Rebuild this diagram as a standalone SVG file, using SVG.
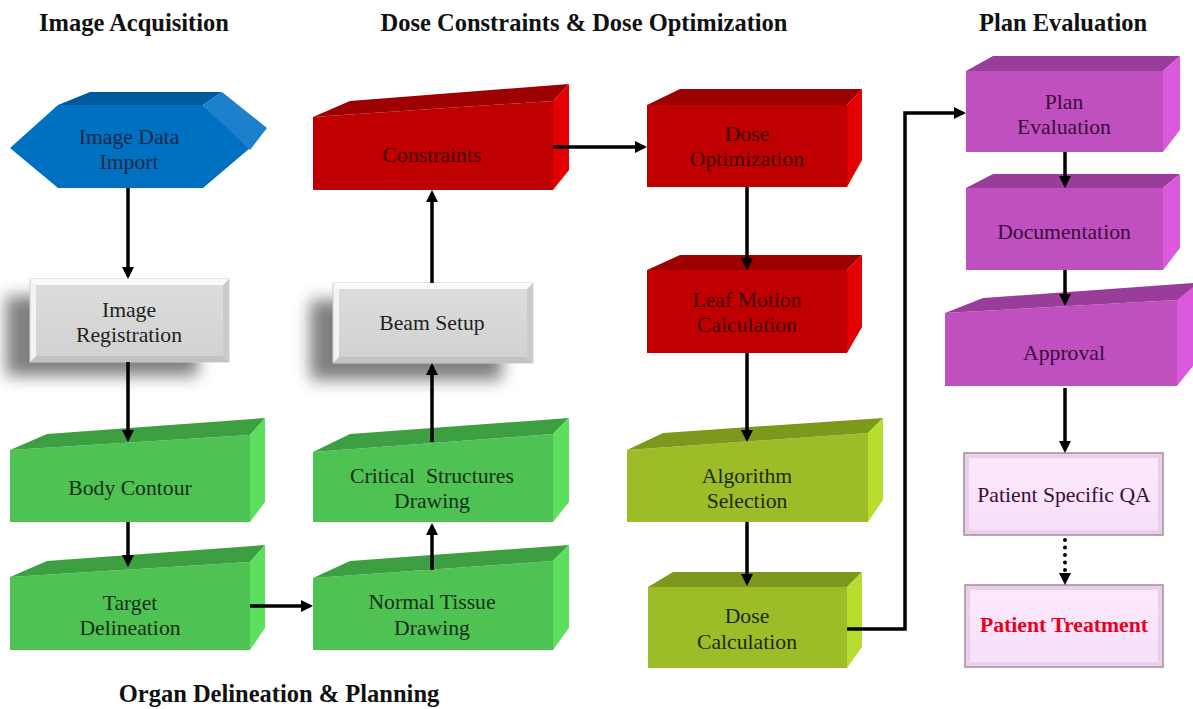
<svg xmlns="http://www.w3.org/2000/svg" width="1193" height="709" viewBox="0 0 1193 709">
<style>
  .hdr{font-family:'Liberation Serif','Times New Roman',serif;font-weight:bold;font-size:24.5px;fill:#111;text-anchor:middle}
  .t{font-family:'Liberation Serif','Times New Roman',serif;font-size:21.7px;text-anchor:middle}
  .gf{fill:#4EC252}.gt{fill:#3D9E42}.gs{fill:#5CDF5F}
  .rf{fill:#C00000}.rt{fill:#9C0000}.rs{fill:#E40000}
  .lf{fill:#9CBD28}.lt{fill:#7C991B}.ls{fill:#B6DE2F}
  .pf{fill:#C050C0}.pt{fill:#9A3D9A}.ps{fill:#DC58DC}
  .bf{fill:#0070C0}.bt{fill:#00599C}.bs{fill:#1C80CD}
  .tg{fill:#17301a}.tr{fill:#400000}.tl{fill:#1d2a06}.tp{fill:#3a0c3a}.tb{fill:#14284a}.tk{fill:#222}
  .ln{fill:none;stroke:#000;stroke-width:3.5}
  .dot{fill:none;stroke:#000;stroke-width:4;stroke-linecap:round;stroke-dasharray:0 7.5}
</style>
<defs>
  <marker id="ah" viewBox="0 0 10 10" refX="7.5" refY="5" markerWidth="12" markerHeight="12" markerUnits="userSpaceOnUse" orient="auto">
    <path d="M0,0 L10,5 L0,10 z" fill="#000"/>
  </marker>
  <filter id="sh" x="-30%" y="-40%" width="160%" height="180%">
    <feGaussianBlur stdDeviation="8"/>
  </filter>
  <linearGradient id="gray" x1="0" y1="0" x2="0" y2="1">
    <stop offset="0" stop-color="#DCDCDC"/>
    <stop offset="1" stop-color="#D2D2D2"/>
  </linearGradient>
  <linearGradient id="pink" x1="0" y1="0" x2="0" y2="1">
    <stop offset="0" stop-color="#FCE8FC"/>
    <stop offset="1" stop-color="#F8E0F8"/>
  </linearGradient>
</defs>
<rect width="1193" height="709" fill="#fff"/>

<g id="headers">
  <text class="hdr" x="134" y="31">Image Acquisition</text>
  <text class="hdr" x="584" y="31">Dose Constraints &amp; Dose Optimization</text>
  <text class="hdr" x="1063" y="31">Plan Evaluation</text>
  <text class="hdr" x="279" y="702">Organ Delineation &amp; Planning</text>
</g>

<g id="image-data-import">
  <polygon class="bf" points="10,148 58,105 203,105 250,148 203,188 58,188"/>
  <polygon class="bt" points="58,105 90,92 222,92 203,105"/>
  <polygon class="bs" points="203,105 222,92 267,128 250,150"/>
  <text class="t tb" x="129" y="144">Image Data</text>
  <text class="t tb" x="129" y="169">Import</text>
</g>

<g id="image-registration">
  <rect x="6" y="296" width="192" height="80" fill="#555" opacity="0.75" filter="url(#sh)"/>
  <rect x="30" y="279" width="199" height="83" fill="#F3F3F3" stroke="#CFCFCF" stroke-width="1"/>
  <polygon points="30,279 229,279 223,285 36,285" fill="#FAFAFA"/>
  <polygon points="30,362 229,362 223,356 36,356" fill="#C2C2C2"/>
  <polygon points="229,279 229,362 223,356 223,285" fill="#CBCBCB"/>
  <rect x="36" y="285" width="187" height="71" fill="url(#gray)"/>
  <text class="t tk" x="129" y="317">Image</text>
  <text class="t tk" x="129" y="342">Registration</text>
</g>

<g id="body-contour">
  <polygon class="gf" points="10,450 250,435 250,522 10,522"/>
  <polygon class="gt" points="10,450 47,434 265,418 250,435"/>
  <polygon class="gs" points="250,435 265,418 265,502 250,522"/>
  <text class="t tg" x="130" y="495">Body Contour</text>
</g>

<g id="target-delineation">
  <polygon class="gf" points="10,577 250,562 250,650 10,650"/>
  <polygon class="gt" points="10,577 47,561 265,545 250,562"/>
  <polygon class="gs" points="250,562 265,545 265,628 250,650"/>
  <text class="t tg" x="130" y="610">Target</text>
  <text class="t tg" x="130" y="635">Delineation</text>
</g>

<g id="constraints">
  <polygon class="rf" points="313,117 553,101 553,190 313,190"/>
  <polygon class="rt" points="313,117 350,101 569,84 553,101"/>
  <polygon class="rs" points="553,101 569,84 569,170 553,190"/>
  <text class="t tr" x="432" y="162">Constraints</text>
</g>

<g id="beam-setup">
  <rect x="310" y="300" width="192" height="80" fill="#555" opacity="0.75" filter="url(#sh)"/>
  <rect x="333" y="283" width="200" height="80" fill="#F3F3F3" stroke="#CFCFCF" stroke-width="1"/>
  <polygon points="333,283 533,283 527,289 339,289" fill="#FAFAFA"/>
  <polygon points="333,363 533,363 527,357 339,357" fill="#C2C2C2"/>
  <polygon points="533,283 533,363 527,357 527,289" fill="#CBCBCB"/>
  <rect x="339" y="289" width="188" height="68" fill="url(#gray)"/>
  <text class="t tk" x="432" y="330">Beam Setup</text>
</g>

<g id="critical-structures">
  <polygon class="gf" points="313,452 553,434 553,522 313,522"/>
  <polygon class="gt" points="313,452 350,434 569,418 553,434"/>
  <polygon class="gs" points="553,434 569,418 569,502 553,522"/>
  <text class="t tg" x="432" y="483" xml:space="preserve">Critical  Structures</text>
  <text class="t tg" x="432" y="508">Drawing</text>
</g>

<g id="normal-tissue">
  <polygon class="gf" points="313,578 553,561 553,650 313,650"/>
  <polygon class="gt" points="313,578 350,561 569,545 553,561"/>
  <polygon class="gs" points="553,561 569,545 569,628 553,650"/>
  <text class="t tg" x="432" y="609">Normal Tissue</text>
  <text class="t tg" x="432" y="635">Drawing</text>
</g>

<g id="dose-optimization">
  <polygon class="rf" points="647,105 847,105 847,187 647,187"/>
  <polygon class="rt" points="647,105 680,89 862,89 847,105"/>
  <polygon class="rs" points="847,105 862,89 862,160 847,187"/>
  <text class="t tr" x="747" y="141">Dose</text>
  <text class="t tr" x="747" y="166">Optimization</text>
</g>

<g id="leaf-motion">
  <polygon class="rf" points="647,270 847,270 847,353 647,353"/>
  <polygon class="rt" points="647,270 680,255 862,255 847,270"/>
  <polygon class="rs" points="847,270 862,255 862,327 847,353"/>
  <text class="t tr" x="747" y="307">Leaf Motion</text>
  <text class="t tr" x="747" y="332">Calculation</text>
</g>

<g id="algorithm-selection">
  <polygon class="lf" points="627,450 868,433 868,522 627,522"/>
  <polygon class="lt" points="627,450 663,433 883,418 868,433"/>
  <polygon class="ls" points="868,433 883,418 883,500 868,522"/>
  <text class="t tl" x="747" y="483">Algorithm</text>
  <text class="t tl" x="747" y="508">Selection</text>
</g>

<g id="dose-calculation">
  <polygon class="lf" points="648,587 847,587 847,668 648,668"/>
  <polygon class="lt" points="648,587 673,572 862,572 847,587"/>
  <polygon class="ls" points="847,587 862,572 862,647 847,668"/>
  <text class="t tl" x="747" y="623">Dose</text>
  <text class="t tl" x="747" y="649">Calculation</text>
</g>

<g id="plan-evaluation">
  <polygon class="pf" points="966,71 1163,71 1163,152 966,152"/>
  <polygon class="pt" points="966,71 993,56 1180,56 1163,71"/>
  <polygon class="ps" points="1163,71 1180,56 1180,130 1163,152"/>
  <text class="t tp" x="1064" y="109">Plan</text>
  <text class="t tp" x="1064" y="134">Evaluation</text>
</g>

<g id="documentation">
  <polygon class="pf" points="966,188 1163,188 1163,270 966,270"/>
  <polygon class="pt" points="966,188 993,174 1180,174 1163,188"/>
  <polygon class="ps" points="1163,188 1180,174 1180,248 1163,270"/>
  <text class="t tp" x="1064" y="239">Documentation</text>
</g>

<g id="approval">
  <polygon class="pf" points="945,313 1177,300 1177,386 945,386"/>
  <polygon class="pt" points="945,313 983,298 1193,283 1193,300 1177,300"/>
  <polygon class="ps" points="1177,300 1193,287 1193,366 1177,386"/>
  <text class="t tp" x="1064" y="360">Approval</text>
</g>

<g id="patient-specific-qa">
  <rect x="964" y="453" width="199" height="82" fill="#E9D0E9" stroke="#A48CA4" stroke-width="1.5"/>
  <rect x="969" y="458" width="189" height="72" fill="url(#pink)"/>
  <text class="t tp" x="1064" y="502">Patient Specific QA</text>
</g>

<g id="patient-treatment">
  <rect x="965" y="585" width="198" height="82" fill="#E9D0E9" stroke="#A48CA4" stroke-width="1.5"/>
  <rect x="970" y="590" width="188" height="72" fill="url(#pink)"/>
  <text class="t" x="1064" y="632" style="font-weight:bold;fill:#E8001E">Patient Treatment</text>
</g>

<g id="connectors">
  <path class="ln" d="M128,188 V276" marker-end="url(#ah)"/>
  <path class="ln" d="M128,362 V439" marker-end="url(#ah)"/>
  <path class="ln" d="M128,522 V564" marker-end="url(#ah)"/>
  <path class="ln" d="M250,606 H310" marker-end="url(#ah)"/>
  <path class="ln" d="M432,570 V526" marker-end="url(#ah)"/>
  <path class="ln" d="M432,442 V366" marker-end="url(#ah)"/>
  <path class="ln" d="M432,283 V193" marker-end="url(#ah)"/>
  <path class="ln" d="M553,147 H644" marker-end="url(#ah)"/>
  <path class="ln" d="M747,187 V267" marker-end="url(#ah)"/>
  <path class="ln" d="M747,353 V439" marker-end="url(#ah)"/>
  <path class="ln" d="M747,522 V583" marker-end="url(#ah)"/>
  <path class="ln" d="M847,629 H905 V113 H963" marker-end="url(#ah)"/>
  <path class="ln" d="M1065,152 V185" marker-end="url(#ah)"/>
  <path class="ln" d="M1065,270 V303" marker-end="url(#ah)"/>
  <path class="ln" d="M1065,388 V450" marker-end="url(#ah)"/>
  <path class="dot" d="M1065,540 V574"/>
  <path d="M1059,573 L1071,573 L1065,585 z" fill="#000"/>
</g>
</svg>
